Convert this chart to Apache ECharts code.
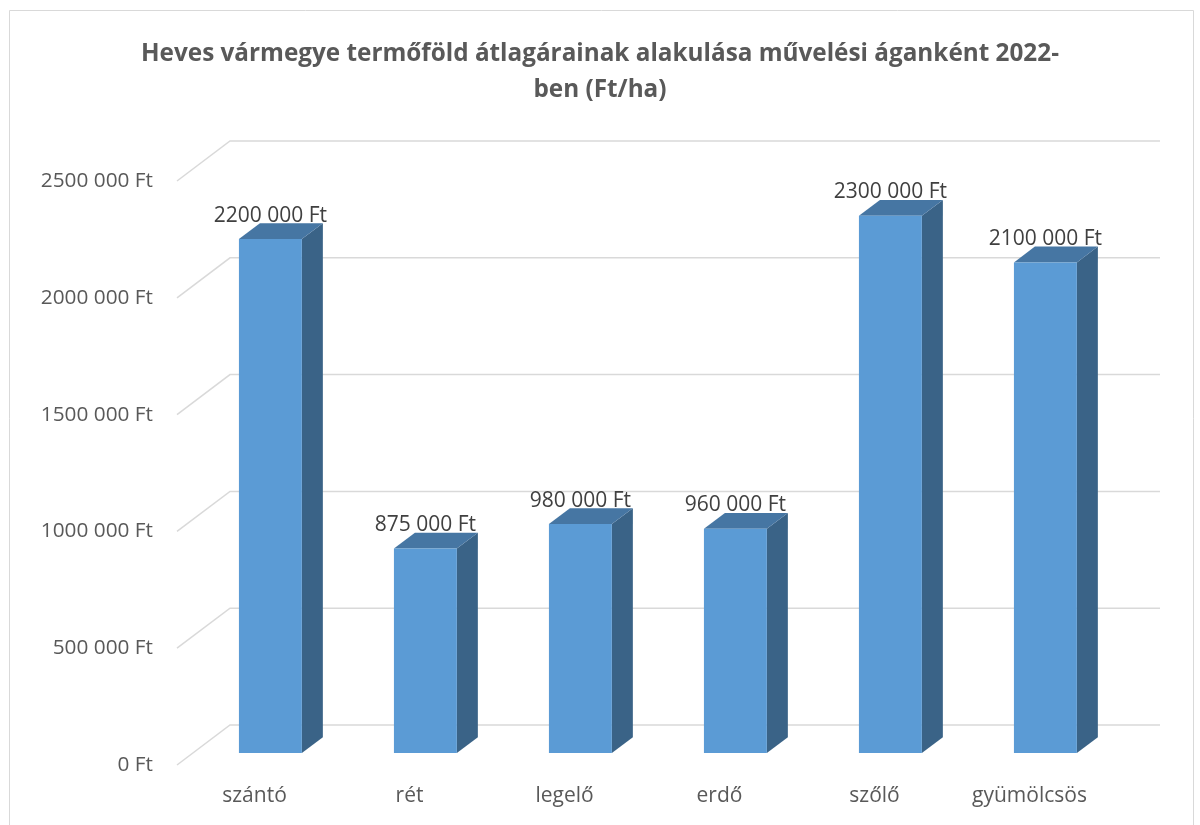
<!DOCTYPE html>
<html>
<head>
<meta charset="utf-8">
<script src="https://cdn.jsdelivr.net/npm/echarts@6/dist/echarts.min.js"></script>
<style>html,body{margin:0;padding:0;background:#fff}#c{width:1200px;height:825px}</style>
</head>
<body>
<div id="c"></div>
<script>
var titleText = 'Heves vármegye termőföld átlagárainak alakulása művelési áganként 2022-\nben (Ft/ha)';
var categories = ['szántó', 'rét', 'legelő', 'erdő', 'szőlő', 'gyümölcsös'];
var values = [2200000, 875000, 980000, 960000, 2300000, 2100000];
var yTicks = [0, 500000, 1000000, 1500000, 2000000, 2500000];

var DEPTH_X = 53, DEPTH_Y = -40;
var D_FRONT = 0.3, D_BACK = 0.696;
var FONT = '"Open Sans", "Noto Sans", sans-serif';
var TXT = '#595959';

function fmt(v) {
  if (v === 0) return '0 Ft';
  var th = Math.floor(v / 1000), rest = v % 1000;
  var r = String(rest); while (r.length < 3) r = '0' + r;
  return th + ' ' + r + ' Ft';
}

var chart = echarts.init(document.getElementById('c'), null, {renderer: 'canvas'});
chart.setOption({
  backgroundColor: '#fff',
  animation: false,
  title: {
    text: titleText, left: 'center', top: 31,
    textStyle: {fontFamily: FONT, fontWeight: 'bold', fontSize: 24.3, color: TXT, lineHeight: 36}
  },
  graphic: [{
    type: 'rect', shape: {x: 9.5, y: 10.5, width: 1184, height: 830},
    style: {fill: 'none', stroke: '#d9d9d9', lineWidth: 1}, silent: true, z: -10
  }],
  grid: {left: 177, right: 93, top: 181, bottom: 60},
  xAxis: {
    type: 'category', data: categories, boundaryGap: true,
    axisLine: {show: false}, axisTick: {show: false}, splitLine: {show: false},
    axisLabel: {margin: 21, fontFamily: FONT, fontSize: 21, color: TXT}
  },
  yAxis: {
    type: 'value', min: 0, max: 2500000, interval: 500000,
    axisLine: {show: false}, axisTick: {show: false}, splitLine: {show: false},
    axisLabel: {margin: 24, fontFamily: FONT, fontSize: 20.8, color: TXT, formatter: fmt}
  },
  series: [{
    type: 'custom',
    data: yTicks.map(function (t) { return [0, t]; }),
    z: 1,
    renderItem: function (params, api) {
      var cs = params.coordSys;
      var y = api.coord([0, api.value(1)])[1];
      return {
        type: 'polyline',
        shape: {points: [[cs.x, y], [cs.x + DEPTH_X, y + DEPTH_Y], [cs.x + cs.width + DEPTH_X, y + DEPTH_Y]]},
        style: {stroke: '#d9d9d9', lineWidth: 1.5, fill: 'none'},
        silent: true
      };
    }
  }, {
    type: 'custom',
    data: values.map(function (v, i) { return [i, v]; }),
    z: 5,
    renderItem: function (params, api) {
      var idx = api.value(0), v = api.value(1);
      var p0 = api.coord([idx, 0]);
      var p1 = api.coord([idx, v]);
      var band = api.size([1, 0])[0];
      var w = band * 0.406;
      var fx = DEPTH_X * D_FRONT, fy = DEPTH_Y * D_FRONT;
      var sx = DEPTH_X * (D_BACK - D_FRONT), sy = DEPTH_Y * (D_BACK - D_FRONT);
      var xl = p0[0] + fx - w / 2, xr = xl + w;
      var yb = p0[1] + fy, yt = p1[1] + fy;
      return {
        type: 'group',
        children: [{
          type: 'polygon',
          shape: {points: [[xr, yt], [xr + sx, yt + sy], [xr + sx, yb + sy], [xr, yb]]},
          style: {fill: '#3a6387'}
        }, {
          type: 'polygon',
          shape: {points: [[xl, yt], [xl + sx, yt + sy], [xr + sx, yt + sy], [xr, yt]]},
          style: {fill: '#4676a3'}
        }, {
          type: 'rect',
          shape: {x: xl, y: yt, width: w, height: yb - yt},
          style: {fill: '#5b9bd5'}
        }, {
          type: 'text',
          style: {
            x: p0[0] + fx, y: yt + sy + 3, text: fmt(v),
            align: 'center', verticalAlign: 'bottom',
            fontFamily: FONT, fontSize: 21, fill: '#404040'
          }
        }]
      };
    }
  }]
});
</script>
</body>
</html>
